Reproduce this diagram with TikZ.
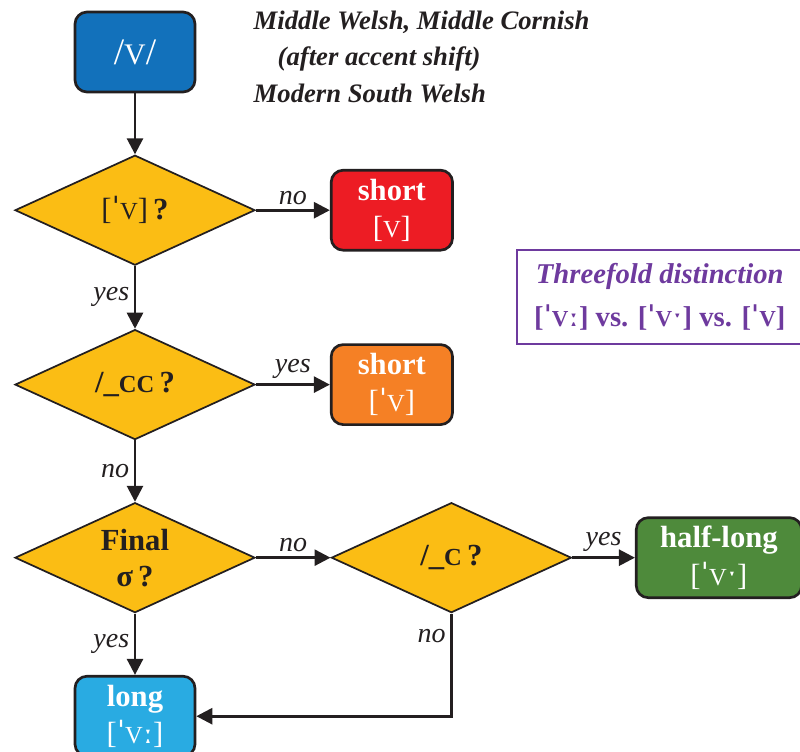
\documentclass[tikz,border=0pt]{standalone}
\usepackage{fontspec}
\setmainfont{Liberation Serif}
\newfontfamily\ipafont{DejaVu Serif}
\usetikzlibrary{shapes.geometric,arrows.meta,positioning}
\definecolor{ink}{HTML}{231F20}
\definecolor{vblue}{HTML}{1271BB}
\definecolor{qyellow}{HTML}{FBBD14}
\definecolor{sred}{HTML}{ED1C24}
\definecolor{sorange}{HTML}{F58025}
\definecolor{hgreen}{HTML}{4E8A3B}
\definecolor{lblue}{HTML}{29ABE2}
\definecolor{tpurple}{HTML}{6E3A9E}
\newcommand{\sV}{\scalebox{0.8}{V}}
\newcommand{\sC}{\scalebox{0.8}{C}}
\newcommand{\stress}{{\ipafont\char"02C8}}
\newcommand{\lengthmark}{{\ipafont\char"02D0}}
\newcommand{\halfmark}{{\ipafont\char"02D1}}

\begin{document}
\begin{tikzpicture}[
  x=0.75pt,y=-0.75pt,
  result/.style={draw=ink,line width=2pt,rounded corners=9pt,align=center,
                 minimum width=91pt,minimum height=60pt,inner sep=2pt,text=white,
                 font=\fontsize{23}{28}\selectfont\bfseries},
  test/.style={diamond,aspect=2.2,draw=ink,line width=1.3pt,fill=qyellow,
               minimum width=180pt,minimum height=82.5pt,inner sep=0pt,align=center,
               text=ink,font=\fontsize{23}{27}\selectfont\bfseries},
  flow/.style={-{Triangle[length=12pt,width=12pt]},draw=ink,line width=2pt},
  lab/.style={font=\fontsize{21}{22}\selectfont\itshape,text=ink},
  note/.style={align=left,text=ink,font=\fontsize{20}{27.5}\selectfont\bfseries\itshape},
  keybox/.style={draw=tpurple,line width=1.7pt,align=center,text=tpurple,
                 minimum width=214pt,minimum height=71pt,
                 font=\fontsize{21.5}{32}\selectfont\bfseries},
]
  \useasboundingbox (0,0) rectangle (800,751);

  \node[result,fill=vblue,minimum width=90pt,font=\fontsize{28}{30}\selectfont] (vowel) at (135,52) {/\sV/};
  \node[note,anchor=north west] (dialects) at (249,6)
    {Middle Welsh, Middle Cornish\\\hspace*{18pt}(after accent shift)\\Modern South Welsh};

  \node[test,below=45.75pt of vowel] (stressed) {\mdseries[\stress\sV]\,\bfseries?};
  \node[result,fill=sred,right=55.5pt of stressed] (shortA) {short\\\mdseries[\sV]};
  \node[test,below=47pt of stressed] (cluster) {/\_\sC\sC\,?};
  \node[result,fill=sorange,right=55.5pt of cluster] (shortB) {short\\\mdseries[\stress\sV]};
  \node[test,below=46pt of cluster] (final) {Final\\σ\,?};
  \node[test,right=56pt of final] (single) {/\_\sC\,?};
  \node[result,fill=hgreen,minimum width=124pt,right=47pt of single] (half) {half-long\\\mdseries[\stress\sV\halfmark]};
  \node[result,fill=lblue,minimum width=90pt,below=46pt of final] (full) {long\\\mdseries[\stress\sV\lengthmark]};

  \node[keybox,anchor=west] (threefold) at (516,297)
    {\itshape Threefold distinction\\{}[\stress\sV\lengthmark] vs. [\stress\sV\halfmark] vs. [\stress\sV]};

  \draw[flow] (vowel) -- (stressed);
  \draw[flow] (stressed) -- (shortA) node[lab,midway,above]{no};
  \draw[flow] (stressed) -- (cluster) node[lab,midway,left]{yes};
  \draw[flow] (cluster) -- (shortB) node[lab,midway,above]{yes};
  \draw[flow] (cluster) -- (final) node[lab,midway,left]{no};
  \draw[flow] (final) -- (single) node[lab,midway,above]{no};
  \draw[flow] (single) -- (half) node[lab,midway,above]{yes};
  \draw[flow] (final) -- (full) node[lab,midway,left]{yes};
  \draw[flow] (single.south) |- (full.east) node[lab,pos=0.11,left]{no};
\end{tikzpicture}
\end{document}
